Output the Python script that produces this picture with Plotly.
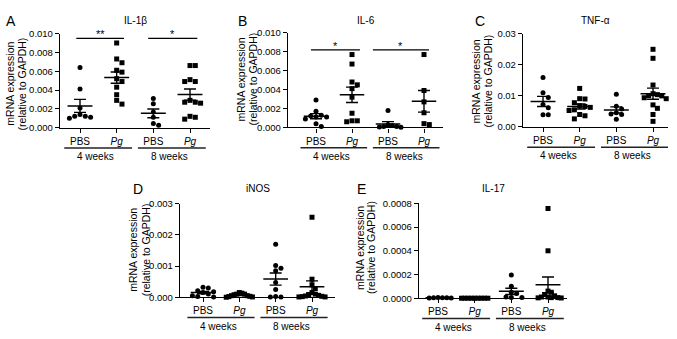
import numpy as np
import plotly.graph_objects as go

W, H = 677, 339

# ---------------- data (mRNA expression relative to GAPDH) ----------------
group_labels = ["PBS", "<i>Pg</i>", "PBS", "<i>Pg</i>"]
week_labels = ["4 weeks", "8 weeks"]

il1b_pbs4 = [0.0064, 0.0041, 0.0021, 0.0014, 0.0012, 0.0012, 0.0010, 0.0011]
il1b_pg4 = [0.0090, 0.0073, 0.0069, 0.0061, 0.0059, 0.0052, 0.0049, 0.0043, 0.0035, 0.0029, 0.0025]
il1b_pbs8 = [0.0031, 0.00255, 0.00165, 0.0011, 0.00045, 0.00025]
il1b_pg8 = [0.0066, 0.0066, 0.0049, 0.0049, 0.0051, 0.0029, 0.0027, 0.0027, 0.0026, 0.0012, 0.0011, 0.0009]

il6_pbs4 = [0.0029, 0.0017, 0.0013, 0.0012, 0.0011, 0.0011, 0.0009, 0.0004, 0.0001]
il6_pg4 = [0.0077, 0.0067, 0.0048, 0.0045, 0.0041, 0.0032, 0.0015, 0.0007, 0.0007, 0.0006]
il6_pbs8 = [0.0018, 0.0003, 0.0002, 0.0001, 0.0001, 0.00005, 0.00003]
il6_pg8 = [0.0077, 0.0039, 0.0027, 0.00155, 0.0004, 0.0003]

tnf_pbs4 = [0.0159, 0.0110, 0.0095, 0.0072, 0.0062, 0.0039, 0.0039]
tnf_pg4 = [0.0124, 0.0091, 0.0090, 0.0078, 0.0068, 0.0066, 0.0063, 0.0055, 0.0053, 0.0040, 0.0036, 0.0026]
tnf_pbs8 = [0.0105, 0.0067, 0.0058, 0.0046, 0.0042, 0.0040, 0.0025]
tnf_pg8 = [0.0250, 0.0221, 0.0135, 0.0107, 0.0104, 0.0101, 0.0100, 0.0094, 0.0091, 0.0071, 0.0060, 0.0040, 0.0018]

inos_pbs4 = [0.00032, 0.00030, 0.00021, 0.00018, 0.00015, 0.00010, 0.00005, 0.00002, 0.00001]
inos_pg4 = [0.00015, 0.00013, 0.00010, 0.00010, 0.00008, 0.00005, 0.00005, 0.00003, 0.00002, 0.00001, 0.0]
inos_pbs8 = [0.00170, 0.00102, 0.00093, 0.00085, 0.00047, 0.00025, 0.00002, 0.00001, 0.00001]
inos_pg8 = [0.00257, 0.00058, 0.00040, 0.00028, 0.00015, 0.00010, 0.00008, 0.00006, 0.00004, 0.00003, 0.00002, 0.00001, 0.00001]

il17_pbs4 = [0.000004, 0.000006, 0.000003, 0.000002, 0.000003, 0.000002]
il17_pg4 = [0.0, 0.0, 0.0, 0.0, 0.0, 0.0, 0.0, 0.0, 0.0]
il17_pbs8 = [0.000195, 0.000100, 0.000050, 0.000040, 0.000010, 0.000005, 0.000005]
il17_pg8 = [0.000757, 0.000400, 0.000060, 0.000050, 0.000030, 0.000020, 0.000010, 0.000010, 0.000005, 0.000005, 0.000003, 0.000002]

# ---------------- layout config ----------------
FONT = "Arial, Liberation Sans, sans-serif"

panels = [
    dict(letter="A", title="IL-1β", data=[il1b_pbs4, il1b_pg4, il1b_pbs8, il1b_pg8],
         ymax=0.010, dtick=0.002, fmt=".3f", box=(60, 210, 28.5, 125.7), c=(80, 190),
         yt=(10.3, 22, 80), lp=(10.5, 15),
         sig=[(0.9, 2.2, 0.0095, "**"), (2.86, 4.2, 0.0095, "*")]),
    dict(letter="B", title="IL-6", data=[il6_pbs4, il6_pg4, il6_pbs8, il6_pg8],
         ymax=0.010, dtick=0.002, fmt=".3f", box=(288, 443, 27.7, 125.5), c=(316, 424),
         yt=(241, 253, 76), lp=(242.5, 15),
         sig=[(0.86, 2.22, 0.0082, "*"), (2.58, 4.14, 0.0082, "*")]),
    dict(letter="C", title="TNF-α", data=[tnf_pbs4, tnf_pg4, tnf_pbs8, tnf_pg8],
         ymax=0.03, dtick=0.01, fmt=".2f", box=(523, 668, 28.7, 125), c=(543, 653),
         yt=(476, 488, 78), lp=(479.5, 15), sig=[]),
    dict(letter="D", title="iNOS", data=[inos_pbs4, inos_pg4, inos_pbs8, inos_pg8],
         ymax=0.003, dtick=0.001, fmt=".3f", box=(180, 335, 204.5, 301), c=(203, 312),
         yt=(133, 145.5, 252), lp=(138, 189), sig=[]),
    dict(letter="E", title="IL-17", data=[il17_pbs4, il17_pg4, il17_pbs8, il17_pg8],
         ymax=0.0008, dtick=0.0002, fmt=".4f", box=(419, 567, 204, 302), c=(438, 548),
         yt=(360, 371, 250), lp=(361, 189), sig=[]),
]


def xp(px):
    return px / W


def yp(py):
    return 1 - py / H


def swarm(vals, ppu, d):
    order = sorted(range(len(vals)), key=lambda k: -vals[k])
    placed = []
    offs = [0.0] * len(vals)
    for k in order:
        ypx = vals[k] * ppu
        j = 0
        while True:
            cand = 0.0 if j == 0 else ((j + 1) // 2) * d * (1 if j % 2 else -1)
            if all((cand - a) ** 2 + (ypx - b) ** 2 >= (d * 0.98) ** 2 for a, b in placed):
                break
            j += 1
        placed.append((cand, ypx))
        offs[k] = cand
    return offs


fig = go.Figure()
shapes = []
annos = []
MS = 5

for i, p in enumerate(panels, start=1):
    xa = "x" if i == 1 else f"x{i}"
    ya = "y" if i == 1 else f"y{i}"
    left, right, top, bottom = p["box"]
    c1, c4 = p["c"]
    sp = (c4 - c1) / 3.0
    ppu = (bottom - top) / p["ymax"]
    r0 = 1 - (c1 - left) / sp
    r1 = 4 + (right - c4) / sp
    for g, vals in enumerate(p["data"]):
        pos = g + 1
        offs = swarm(vals, ppu, MS + 0.3)
        mx = max(abs(o) for o in offs) if offs else 0
        lim = 0.36 * sp
        if mx > lim:
            offs = [o * lim / mx for o in offs]
        xs = [pos + o / sp for o in offs]
        sym = "circle" if g % 2 == 0 else "square"
        fig.add_trace(go.Scatter(x=xs, y=vals, mode="markers", xaxis=xa, yaxis=ya,
                                 marker=dict(symbol=sym, size=MS, color="black", line=dict(width=0)),
                                 cliponaxis=False, showlegend=False, hoverinfo="y"))
        arr = np.array(vals, dtype=float)
        m = arr.mean()
        sem = arr.std(ddof=1) / np.sqrt(len(arr))
        fig.add_trace(go.Scatter(x=[pos - 0.34, pos + 0.34], y=[m, m], mode="lines",
                                 xaxis=xa, yaxis=ya, line=dict(color="black", width=1.5),
                                 cliponaxis=False, showlegend=False, hoverinfo="skip"))
        fig.add_trace(go.Scatter(x=[pos], y=[m], mode="markers", xaxis=xa, yaxis=ya,
                                 marker=dict(size=1, opacity=0),
                                 error_y=dict(type="data", array=[sem], visible=True, width=6,
                                              thickness=1.4, color="black"),
                                 cliponaxis=False, showlegend=False, hoverinfo="skip"))

    ax_x = dict(domain=[xp(left), xp(right)], range=[r0, r1], anchor=ya,
                tickmode="array", tickvals=[1, 2, 3, 4], ticktext=group_labels,
                ticks="outside", ticklen=4, tickwidth=1.3, tickcolor="black",
                showline=True, linecolor="black", linewidth=1.4, showgrid=False, zeroline=False,
                tickfont=dict(family=FONT, size=10, color="black"), fixedrange=True)
    ax_y = dict(domain=[yp(bottom), yp(top)], range=[0, p["ymax"]], anchor=xa,
                tickmode="linear", tick0=0, dtick=p["dtick"], tickformat=p["fmt"],
                ticks="outside", ticklen=4, tickwidth=1.3, tickcolor="black",
                showline=True, linecolor="black", linewidth=1.4, showgrid=False, zeroline=False,
                tickfont=dict(family=FONT, size=9.5, color="black"), fixedrange=True)
    fig.layout[("xaxis" if i == 1 else f"xaxis{i}")] = ax_x
    fig.layout[("yaxis" if i == 1 else f"yaxis{i}")] = ax_y

    # group brackets and week labels
    for k, (a, b) in enumerate([(0.57, 2.42), (2.58, 4.43)]):
        shapes.append(dict(type="line", xref=xa, yref="paper", x0=a, x1=b,
                           y0=yp(bottom + 21), y1=yp(bottom + 21),
                           line=dict(color="#222222", width=1.4)))
        annos.append(dict(text=week_labels[k], xref=xa, yref="paper", x=(a + b) / 2 - 0.06,
                          y=yp(bottom + 30), showarrow=False, xanchor="center", yanchor="middle",
                          font=dict(family=FONT, size=10, color="black")))
    # significance
    for a, b, yv, star in p["sig"]:
        shapes.append(dict(type="line", xref=xa, yref=ya, x0=a, x1=b, y0=yv, y1=yv,
                           line=dict(color="black", width=1.3)))
        annos.append(dict(text=star, xref=xa, yref=ya, x=(a + b) / 2, y=yv, showarrow=False,
                          xanchor="center", yanchor="bottom", yshift=-4,
                          font=dict(family=FONT, size=11, color="black")))
    # titles, letters, y-axis titles
    annos.append(dict(text=p["title"], xref="paper", yref="paper", x=xp((left + right) / 2),
                      y=yp(p["lp"][1]), showarrow=False, xanchor="center", yanchor="middle",
                      font=dict(family=FONT, size=10, color="black")))
    annos.append(dict(text=p["letter"], xref="paper", yref="paper", x=xp(p["lp"][0]),
                      y=yp(p["lp"][1]), showarrow=False, xanchor="center", yanchor="middle",
                      font=dict(family=FONT, size=14, color="black")))
    l1x, l2x, ycen = p["yt"]
    for tx, xx in [("mRNA expression", l1x), ("(relative to GAPDH)", l2x)]:
        annos.append(dict(text=tx, xref="paper", yref="paper", x=xp(xx), y=yp(ycen),
                          showarrow=False, xanchor="center", yanchor="middle", textangle=-90,
                          font=dict(family=FONT, size=10.5, color="black")))

fig.update_layout(width=W, height=H, margin=dict(l=0, r=0, t=0, b=0),
                  paper_bgcolor="white", plot_bgcolor="white",
                  shapes=shapes, annotations=annos, showlegend=False,
                  font=dict(family=FONT, color="black"))

fig.write_html("out.html", config={"displayModeBar": False},
               post_script="document.body.style.margin='0px';document.body.style.padding='0px';")
